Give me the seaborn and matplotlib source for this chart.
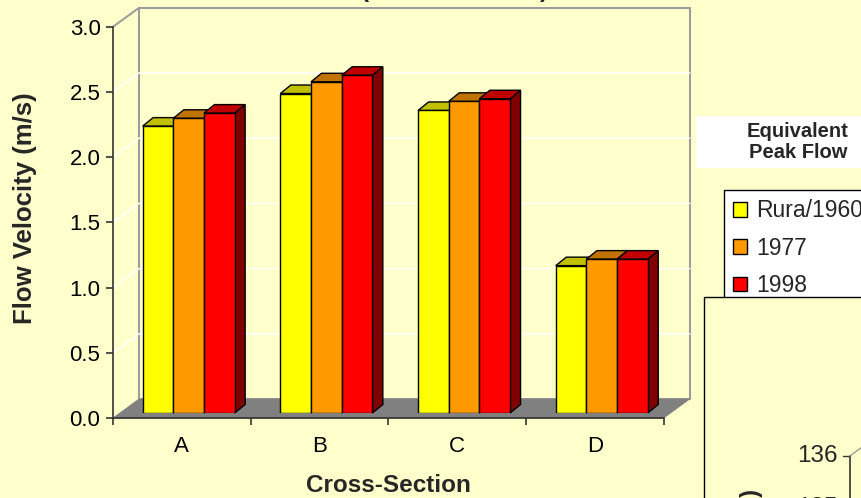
import numpy as np
import pandas as pd
import matplotlib
matplotlib.use("Agg")
import matplotlib.pyplot as plt
from matplotlib.patches import Polygon, Rectangle, Patch
from matplotlib.lines import Line2D
import seaborn as sns

# ---- data -------------------------------------------------------------
sections = ["A", "B", "C", "D"]
years = ["Rura/1960", "1977", "1998"]
v_1960 = [2.20, 2.45, 2.32, 1.13]
v_1977 = [2.26, 2.54, 2.39, 1.18]
v_1998 = [2.30, 2.59, 2.41, 1.18]
y_ticks = [0.0, 0.5, 1.0, 1.5, 2.0, 2.5, 3.0]

front_colors = ["#FFFF00", "#FF9900", "#FF0000"]
top_colors = ["#C0C000", "#C07300", "#C00000"]
side_colors = ["#808000", "#804D00", "#800000"]
BG = "#FFFFCC"

df = pd.DataFrame({
    "Cross-Section": sections * len(years),
    "Year": np.repeat(years, len(sections)),
    "Velocity": v_1960 + v_1977 + v_1998,
})

sns.set_theme(style="white")
plt.rcParams["font.family"] = ["Liberation Sans", "DejaVu Sans"]

W, H = 862, 498
fig = plt.figure(figsize=(W / 100, H / 100), dpi=100, facecolor=BG)

# ---- pseudo-3D geometry (pixels) --------------------------------------
PX_X = 137.7            # pixels per category
PX_Y = 130.4            # pixels per m/s
FRONT_X0, FRONT_Y0 = 113, 418
BAR_SHIFT = (6.8, 5.0)  # bars stand a little behind the front edge
WALL_SHIFT = (26.0, 19.0)
BAR_DEPTH = (10.5, 8.5)


def fig_rect(left_px, bottom_px, width_px, height_px):
    return [left_px / W, 1 - bottom_px / H, width_px / W, height_px / H]


ax = fig.add_axes(fig_rect(FRONT_X0 + BAR_SHIFT[0], FRONT_Y0 - BAR_SHIFT[1],
                           4 * PX_X, 3 * PX_Y))
ax.set_facecolor("none")
sns.barplot(data=df, x="Cross-Section", y="Velocity", hue="Year",
            hue_order=years, palette=front_colors, width=0.668, gap=0,
            saturation=1, edgecolor="black", linewidth=1.0, errorbar=None,
            legend=False, ax=ax)
ax.set_xlim(-0.5, 3.5)
ax.set_ylim(0, 3)
ax.axis("off")

bars = sorted(ax.patches, key=lambda p: p.get_x())

fx, fy = -BAR_SHIFT[0] / PX_X, -BAR_SHIFT[1] / PX_Y
bx, by = (WALL_SHIFT[0] - BAR_SHIFT[0]) / PX_X, (WALL_SHIFT[1] - BAR_SHIFT[1]) / PX_Y
ddx, ddy = BAR_DEPTH[0] / PX_X, BAR_DEPTH[1] / PX_Y

# side wall, back wall and floor
ax.add_patch(Polygon([(-0.5 + fx, fy), (-0.5 + fx, 3 + fy), (-0.5 + bx, 3 + by),
                      (-0.5 + bx, by)], closed=True, fc=BG, ec="none",
                     zorder=0.5, clip_on=False))
ax.add_patch(Rectangle((-0.5 + bx, by), 4, 3, fc=BG, ec="#9A9A9A", lw=1.4,
                       zorder=0.6, clip_on=False))
ax.plot([-0.5 + fx, -0.5 + bx], [3 + fy, 3 + by], color="#9A9A9A", lw=1.4,
        zorder=0.9, clip_on=False)
for v in y_ticks[1:-1]:
    ax.plot([-0.5 + fx, -0.5 + bx, 3.5 + bx], [v + fy, v + by, v + by],
            color="white", lw=1.1, zorder=0.8, clip_on=False)
ax.add_patch(Polygon([(-0.5 + fx, fy), (3.5 + fx, fy), (3.5 + bx, by),
                      (-0.5 + bx, by)], closed=True, fc="#808080", ec="#808080",
                     lw=0.5, zorder=1, clip_on=False))

# tops and sides of the columns
for i, p in enumerate(bars):
    k = i % len(years)
    x0, w, h = p.get_x(), p.get_width(), p.get_height()
    p.set_zorder(3 + 3 * i + 2)
    p.set_joinstyle("miter")
    ax.add_patch(Polygon([(x0 + w, 0), (x0 + w + ddx, ddy), (x0 + w + ddx, h + ddy),
                          (x0 + w, h)], closed=True, fc=side_colors[k], ec="black",
                         lw=1.0, zorder=3 + 3 * i + 1, clip_on=False,
                         joinstyle="miter"))
    ax.add_patch(Polygon([(x0, h), (x0 + w, h), (x0 + w + ddx, h + ddy),
                          (x0 + ddx, h + ddy)], closed=True, fc=top_colors[k],
                         ec="black", lw=1.0, zorder=3 + 3 * i + 1, clip_on=False,
                         joinstyle="miter"))

# ---- front axes: value axis and category axis ------------------------
ax2 = fig.add_axes(fig_rect(FRONT_X0, FRONT_Y0, 4 * PX_X, 3 * PX_Y))
ax2.set_facecolor("none")
ax2.set_xlim(-0.5, 3.5)
ax2.set_ylim(0, 3)
for s in ("top", "right"):
    ax2.spines[s].set_visible(False)
for s in ("left", "bottom"):
    ax2.spines[s].set_color("#333333")
    ax2.spines[s].set_linewidth(1.2)
ax2.set_yticks(y_ticks, labels=[f"{t:.1f}" for t in y_ticks])
ax2.set_xticks(np.arange(-0.5, 4.0, 1.0), labels=[""] * 5)
ax2.set_xticks(range(len(sections)), labels=sections, minor=True)
ax2.tick_params(axis="x", which="major", length=5, width=1.2, color="#333333",
                direction="out", bottom=True)
ax2.tick_params(axis="x", which="minor", length=0, pad=13, labelsize=16,
                labelcolor="black", bottom=True)
ax2.tick_params(axis="y", length=5, width=1.2, color="#333333", direction="out",
                pad=4, labelsize=16, labelcolor="black", left=True)
ax2.set_ylabel("Flow Velocity (m/s)", fontsize=18.5, fontweight="bold",
               va="center", ha="center")
ax2.yaxis.set_label_coords((25 - FRONT_X0) / (4 * PX_X), (FRONT_Y0 - 208) / (3 * PX_Y))
ax2.set_xlabel("Cross-Section", fontsize=17.5, fontweight="bold", va="center")
ax2.xaxis.set_label_coords((388 - FRONT_X0) / (4 * PX_X), (FRONT_Y0 - 485) / (3 * PX_Y))

# title fragments
fig.text(365 / W, 1 + 3 / H, "(", ha="center", va="baseline", fontsize=17.5,
         fontweight="bold")
fig.text(544 / W, 1 + 3 / H, ")", ha="center", va="baseline", fontsize=17.5,
         fontweight="bold")

# ---- legend ----------------------------------------------------------
fig.add_artist(Rectangle((696 / W, 1 - 168 / H), 200 / W, 52 / H,
                         transform=fig.transFigure, fc="white", ec="none", zorder=4))
fig.text(798 / W, 1 - 142 / H, "Equivalent\nPeak Flow", ha="center", va="center",
         multialignment="center", fontsize=14.5, fontweight="bold",
         linespacing=1.1, zorder=5)
handles = [Patch(facecolor=c, edgecolor="black", linewidth=1.0) for c in front_colors]
leg = fig.legend(handles, years, loc="upper left",
                 bbox_to_anchor=(724 / W, 1 - 190 / H),
                 bbox_transform=fig.transFigure, frameon=True, fancybox=False,
                 edgecolor="black", facecolor="white", framealpha=1,
                 fontsize=16.5, handlelength=0.62, handleheight=0.62,
                 handletextpad=0.4, borderpad=0.4, labelspacing=0.63,
                 borderaxespad=0)
leg.get_frame().set_linewidth(1.0)

# ---- neighbouring chart panel ----------------------------------------
fig.add_artist(Rectangle((704 / W, 1 - 540 / H), 200 / W, (540 - 297) / H,
                         transform=fig.transFigure, fc=BG, ec="black", lw=1.0,
                         zorder=6))
fig.text(838 / W, 1 - 456 / H, "136", ha="right", va="center", fontsize=17.5,
         zorder=7)
fig.text(838 / W, 1 - 508 / H, "135", ha="right", va="center", fontsize=17.5,
         zorder=7)
fig.add_artist(Line2D([843 / W, 850 / W], [1 - 456 / H, 1 - 456 / H],
                      transform=fig.transFigure, color="#333333", lw=1.0, zorder=7))
fig.add_artist(Line2D([850 / W, 850 / W], [1 - 456 / H, 1 - 510 / H],
                      transform=fig.transFigure, color="#333333", lw=1.2, zorder=7))
fig.add_artist(Line2D([850 / W, 866 / W], [1 - 456 / H, 1 - 444 / H],
                      transform=fig.transFigure, color="#9A9A9A", lw=1.0, zorder=7))
fig.text(751 / W, 1 - 489 / H, ")", rotation=90, ha="center", va="top",
         fontsize=17.5, fontweight="bold", zorder=7)

fig.savefig("out.png", dpi=100, facecolor=BG)
